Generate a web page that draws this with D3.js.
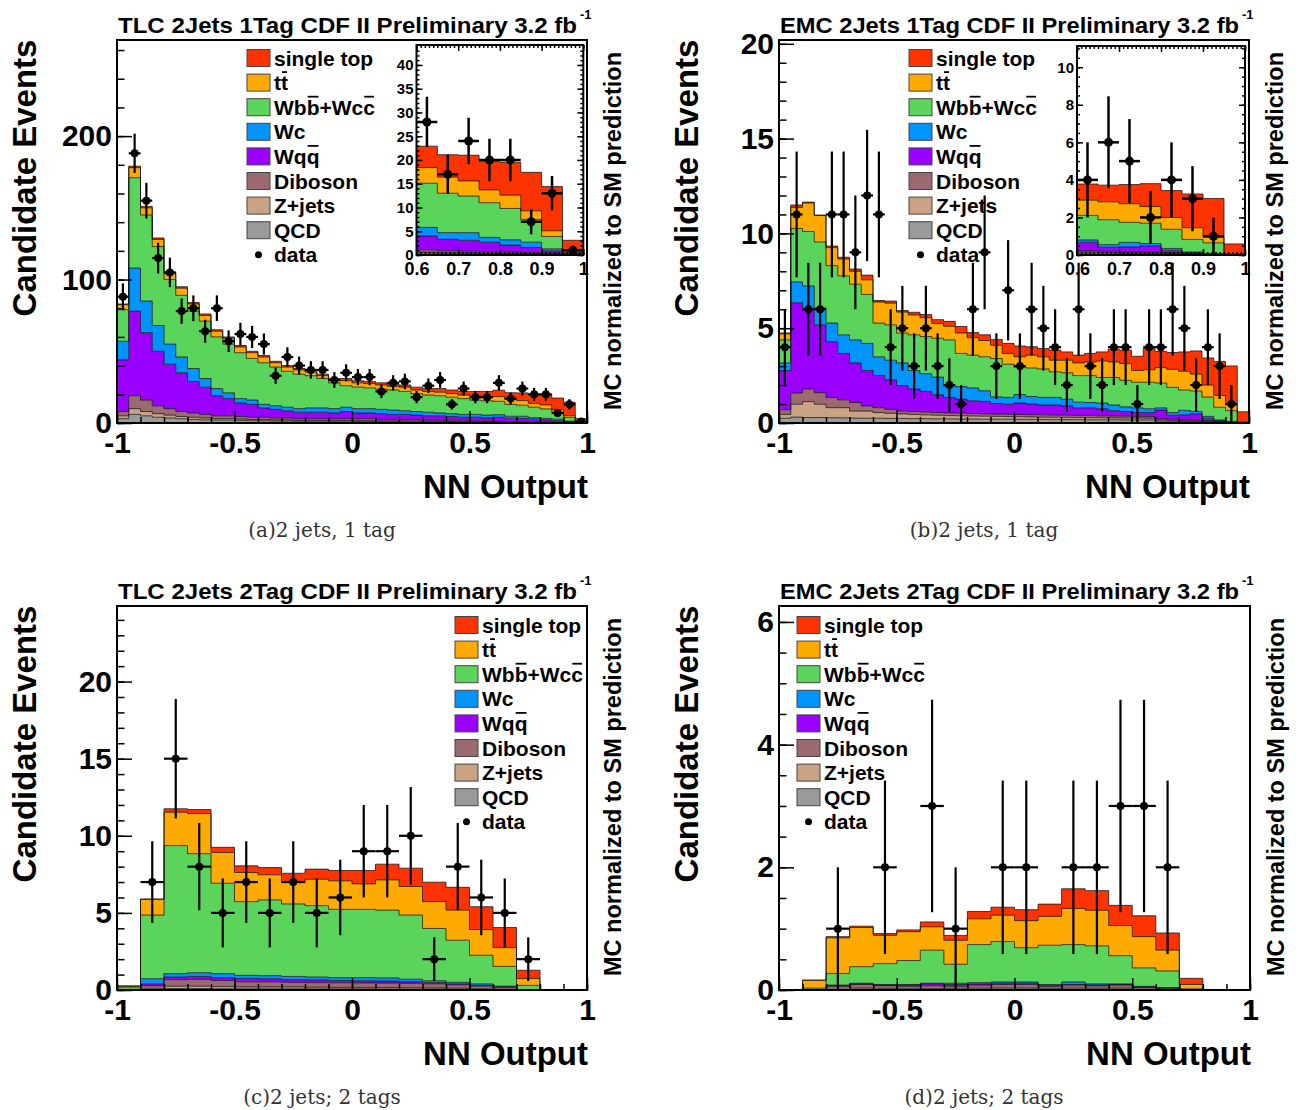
<!DOCTYPE html>
<html>
<head>
<meta charset="utf-8">
<script src="https://cdn.jsdelivr.net/npm/d3@7"></script>
<style>
  body { margin: 0; background: #fff; }
  svg { display: block; }
  text { font-family: "Liberation Sans", Arial, Helvetica, sans-serif; font-weight: bold; }
  text.caption { font-family: "DejaVu Serif", "Liberation Serif", serif; font-weight: normal; }
</style>
</head>
<body>
<svg id="fig" width="1300" height="1110"></svg>
<script>
// Processes in stacking order (bottom to top) and their fill colours
const processNames = ["QCD", "Z+jets", "Diboson", "Wqq", "Wc", "Wbb+Wcc", "tt", "single top"];
const processColors = ["#9a9a9a", "#c9a384", "#9a6a70", "#9900ff", "#0094ff", "#5ad45a", "#ffaa00", "#ff3300"];

// Bin edges of the NN output histograms
const edges40 = d3.range(41).map(i => -1 + i * 0.05);
const edges20 = d3.range(21).map(i => -1 + i * 0.1);

// ---- TLC 2 jets, 1 tag (40 bins) ----
const tlc1_qcd     = [3, 6, 5, 4, 3.5, 3, 2.5, 2.2, 2, 2, 1.8, 1.6, 1.6, 1.4, 1.4, 1.2, 1.2, 1.2, 1.2, 1.2, 1.1, 1.1, 1.0, 1.0, 0.9, 0.9, 0.8, 0.8, 0.7, 0.7, 0.6, 0.6, 0.4, 0.35, 0.3, 0.3, 0.2, 0.2, 0.15, 0.02];
const tlc1_zjets   = [2, 4, 3, 2.5, 2, 1.5, 1.5, 1.3, 1, 1, 0.9, 0.8, 0.8, 0.7, 0.7, 0.6, 0.6, 0.6, 0.6, 0.6, 0.6, 0.6, 0.5, 0.5, 0.5, 0.5, 0.4, 0.4, 0.4, 0.4, 0.3, 0.3, 0.2, 0.2, 0.2, 0.1, 0.1, 0.1, 0.1, 0.01];
const tlc1_diboson = [3, 9, 8, 5.5, 4.5, 3.5, 3, 2.5, 2, 2, 1.8, 1.6, 1.6, 1.4, 1.4, 1.2, 1.2, 1.2, 1.2, 1.2, 1.3, 1.3, 1.0, 1.0, 1.1, 1.1, 0.8, 0.8, 0.9, 0.9, 0.6, 0.6, 0.5, 0.35, 0.3, 0.3, 0.3, 0.2, 0.15, 0.02];
const tlc1_wqq     = [36, 59, 47, 38, 31, 27, 22, 19, 14, 12, 9.5, 9, 6.5, 6, 5, 4.5, 4.5, 4.5, 4, 5, 4, 4, 4, 3.5, 3.5, 3, 3, 3, 2.5, 2, 2.5, 2, 2.9, 2.4, 2.3, 2.0, 1.5, 1.1, 0.5, 0.05];
const tlc1_wc      = [13, 30, 22, 18, 14, 11, 9, 6, 5, 4, 3, 3, 2.5, 2.5, 2.5, 2.5, 3, 3, 3, 3, 3, 3, 3, 3, 2.5, 2.5, 2.5, 2, 2, 2, 2, 2, 1.8, 1.4, 1.6, 1.0, 1.1, 1.1, 0.4, 0.1];
const tlc1_wbb     = [22, 63, 60, 55, 45, 43, 40, 40, 36, 34, 32, 29, 29, 27, 25, 24, 22.5, 20.5, 18, 15, 15, 14.5, 14, 14, 13.5, 12.5, 12, 12, 11.5, 11, 10, 10, 9.3, 8.3, 7.7, 7.3, 6.6, 4.8, 2.6, 0.1];
const tlc1_tt      = [3.5, 7, 5, 5, 4, 5, 5, 4, 4, 4, 4, 4, 4, 3, 3, 3, 2.5, 2, 2, 3.5, 3, 3, 3, 2.5, 3, 2.5, 2.5, 2.5, 2.5, 2.5, 3, 3, 3.3, 3.4, 3.2, 2.7, 2.8, 1.8, 1.2, 0.2];
const tlc1_stop    = [0.5, 1, 1, 1, 1, 1, 1, 1, 1, 1, 1, 1, 1, 1, 1, 1, 1.5, 1, 1, 1.5, 1.5, 1.5, 1.5, 1.5, 1.5, 2, 2, 2.5, 2.5, 2.5, 3, 3.5, 4.5, 4.7, 5.4, 6.0, 6.9, 8.1, 9.3, 2.6];
const tlc1_data    = [88, 188, 155, 115, 105, 78, 80, 64, 80, 57, 62, 60, 55, 33, 46, 40, 37, 37, 30, 35, 32, 32, 22, 28, 29, 18, 26, 30, 13, 24, 18, 18, 28, 17, 24, 20, 20, 7, 13, 1];

// ---- EMC 2 jets, 1 tag (40 bins) ----
const emc1_qcd     = [0.25, 0.31, 0.29, 0.29, 0.28, 0.27, 0.26, 0.25, 0.25, 0.24, 0.24, 0.23, 0.23, 0.22, 0.22, 0.21, 0.21, 0.2, 0.2, 0.2, 0.19, 0.19, 0.19, 0.18, 0.18, 0.18, 0.17, 0.17, 0.17, 0.16, 0.16, 0.16, 0.1, 0.09, 0.08, 0.08, 0.06, 0.04, 0.02, 0];
const emc1_zjets   = [0.2, 0.68, 0.84, 0.7, 0.53, 0.54, 0.37, 0.38, 0.3, 0.27, 0.24, 0.22, 0.2, 0.19, 0.17, 0.17, 0.16, 0.16, 0.15, 0.14, 0.14, 0.13, 0.12, 0.12, 0.12, 0.11, 0.11, 0.11, 0.1, 0.1, 0.1, 0.09, 0.06, 0.05, 0.05, 0.04, 0.03, 0.02, 0.01, 0];
const emc1_diboson = [0.25, 0.59, 0.66, 0.61, 0.53, 0.41, 0.45, 0.27, 0.26, 0.21, 0.15, 0.15, 0.15, 0.14, 0.14, 0.14, 0.13, 0.12, 0.12, 0.12, 0.12, 0.12, 0.12, 0.12, 0.11, 0.11, 0.11, 0.1, 0.1, 0.1, 0.09, 0.09, 0.07, 0.06, 0.05, 0.05, 0.04, 0.02, 0.01, 0];
const emc1_wqq     = [2.07, 4.76, 4.19, 3.58, 2.95, 2.45, 2.09, 1.87, 1.7, 1.56, 1.34, 1.19, 1.09, 0.94, 0.82, 0.74, 0.67, 0.66, 0.56, 0.53, 0.6, 0.56, 0.52, 0.53, 0.49, 0.4, 0.41, 0.37, 0.28, 0.24, 0.2, 0.21, 0.45, 0.21, 0.25, 0.32, 0.12, 0.03, 0.01, 0];
const emc1_wc      = [0.4, 1.1, 1.25, 0.89, 0.98, 0.98, 1.21, 1.43, 0.98, 1.03, 1.2, 0.98, 0.93, 0.93, 0.62, 0.66, 0.68, 0.56, 0.35, 0.36, 0.45, 0.4, 0.4, 0.4, 0.35, 0.3, 0.28, 0.3, 0.3, 0.25, 0.25, 0.2, 0.12, 0.14, 0.24, 0.12, 0.1, 0.05, 0.02, 0];
const emc1_wbb     = [1.21, 2.82, 2.87, 3.48, 3.03, 3.11, 2.94, 2.58, 1.78, 1.87, 1.57, 1.88, 1.96, 2.05, 2.41, 1.75, 1.73, 1.79, 2.02, 1.75, 1.45, 1.5, 1.5, 1.35, 1.4, 1.4, 1.42, 1.35, 1.45, 1.4, 1.35, 1.4, 1.31, 1.33, 1.07, 1.08, 1.02, 0.67, 0.58, 0.02];
const emc1_tt      = [0.32, 1.11, 1.5, 1.39, 0.95, 0.89, 0.68, 0.77, 1.11, 1.14, 1.11, 1.05, 0.99, 0.78, 0.72, 1.08, 0.92, 0.86, 0.7, 0.57, 0.54, 0.68, 0.64, 0.61, 0.66, 0.67, 0.72, 0.87, 0.82, 0.88, 0.62, 0.66, 0.81, 0.95, 0.99, 0.89, 0.63, 0.62, 0.3, 0.03];
const emc1_stop    = [0.05, 0.13, 0.05, 0.03, 0.08, 0.09, 0.12, 0.25, 0.08, 0.11, 0.08, 0.14, 0.17, 0.2, 0.26, 0.34, 0.27, 0.3, 0.31, 0.53, 0.57, 0.44, 0.44, 0.53, 0.44, 0.41, 0.45, 0.48, 0.66, 0.71, 0.75, 1.12, 0.86, 0.89, 1.02, 1.22, 1.43, 1.8, 2.06, 0.54];
const emc1_data    = [4, 11, 6, 6, 11, 11, 9, 12, 11, 4, 5, 3, 5, 3, 2, 1, 6, 9, 3, 7, 3, 6, 5, 4, 2, 6, 3, 2, 4, 4, 1, 4, 4, 6, 5, 2, 4, 3, 1, 0];

// ---- TLC 2 jets, 2 tags (20 bins) ----
const tlc2_qcd     = [0, 0.03, 0.1, 0.1, 0.08, 0.08, 0.08, 0.08, 0.07, 0.07, 0.07, 0.06, 0.06, 0.05, 0.04, 0.03, 0.02, 0, 0, 0];
const tlc2_zjets   = [0, 0.05, 0.15, 0.15, 0.14, 0.12, 0.12, 0.12, 0.11, 0.1, 0.1, 0.1, 0.09, 0.08, 0.07, 0.05, 0.02, 0, 0, 0];
const tlc2_diboson = [0.02, 0.2, 0.42, 0.44, 0.4, 0.33, 0.33, 0.3, 0.3, 0.3, 0.29, 0.29, 0.28, 0.27, 0.23, 0.18, 0.14, 0.01, 0, 0];
const tlc2_wqq     = [0, 0.12, 0.17, 0.19, 0.18, 0.22, 0.2, 0.17, 0.17, 0.15, 0.14, 0.13, 0.11, 0.08, 0.06, 0.04, 0.02, 0, 0, 0];
const tlc2_wc      = [0.02, 0.33, 0.22, 0.24, 0.26, 0.2, 0.2, 0.21, 0.19, 0.18, 0.2, 0.2, 0.16, 0.12, 0.1, 0.1, 0.05, 0.01, 0, 0];
const tlc2_wbb     = [0.15, 4.13, 8.3, 7.72, 5.86, 4.78, 4.91, 4.7, 4.63, 4.43, 4.43, 4.4, 4.16, 3.39, 2.73, 1.85, 1.28, 0.28, 0, 0];
const tlc2_tt      = [0.07, 1.02, 2.17, 2.6, 2.0, 1.89, 1.63, 1.39, 1.71, 1.85, 1.65, 1.96, 1.85, 1.74, 1.95, 1.67, 1.22, 0.44, 0, 0];
const tlc2_stop    = [0, 0.02, 0.22, 0.26, 0.33, 0.43, 0.47, 0.6, 0.66, 0.67, 0.87, 1.02, 1.19, 1.26, 1.48, 1.48, 1.3, 0.54, 0, 0];
const tlc2_data    = [0, 7, 15, 8, 5, 7, 5, 7, 5, 6, 9, 9, 10, 2, 8, 6, 5, 2, 0, 0];

// ---- EMC 2 jets, 2 tags (20 bins) ----
const emc2_qcd     = [0, 0, 0, 0.01, 0.01, 0.01, 0.01, 0.01, 0.01, 0.01, 0.01, 0.01, 0.01, 0.01, 0.01, 0, 0, 0, 0, 0];
const emc2_zjets   = [0, 0, 0.01, 0.02, 0.01, 0.01, 0.01, 0.01, 0.02, 0.02, 0.02, 0.01, 0.02, 0.02, 0.02, 0.01, 0.01, 0, 0, 0];
const emc2_diboson = [0, 0, 0.05, 0.06, 0.05, 0.04, 0.05, 0.04, 0.05, 0.06, 0.06, 0.04, 0.05, 0.04, 0.05, 0.03, 0.02, 0, 0, 0];
const emc2_wqq     = [0, 0, 0.01, 0.01, 0.01, 0.02, 0.03, 0.03, 0.02, 0.02, 0.02, 0.01, 0.01, 0.01, 0.01, 0.01, 0, 0, 0, 0];
const emc2_wc      = [0, 0, 0.01, 0.01, 0.01, 0.01, 0.01, 0.02, 0.02, 0.02, 0.02, 0.02, 0.04, 0.02, 0.01, 0.01, 0.01, 0, 0, 0];
const emc2_wbb     = [0, 0.03, 0.19, 0.27, 0.34, 0.39, 0.54, 0.31, 0.62, 0.66, 0.56, 0.64, 0.61, 0.62, 0.46, 0.3, 0.27, 0.02, 0, 0];
const emc2_tt      = [0, 0.13, 0.58, 0.64, 0.46, 0.47, 0.38, 0.39, 0.42, 0.43, 0.44, 0.47, 0.59, 0.58, 0.49, 0.51, 0.34, 0.07, 0, 0];
const emc2_stop    = [0, 0, 0.02, 0.02, 0.03, 0.03, 0.08, 0.08, 0.12, 0.13, 0.18, 0.2, 0.32, 0.32, 0.33, 0.34, 0.28, 0.1, 0, 0];
const emc2_data    = [0, 0, 1, 0, 2, 0, 3, 1, 0, 2, 2, 0, 2, 2, 3, 3, 2, 0, 0, 0];

// Legend entries, top to bottom; "bars" are character indices carrying an overline
const legendEntries = [
  { label: "single top", proc: 7, bars: [] },
  { label: "tt",         proc: 6, bars: [1] },
  { label: "Wbb+Wcc",    proc: 5, bars: [2, 6] },
  { label: "Wc",         proc: 4, bars: [] },
  { label: "Wqq",        proc: 3, bars: [2] },
  { label: "Diboson",    proc: 2, bars: [] },
  { label: "Z+jets",     proc: 1, bars: [] },
  { label: "QCD",        proc: 0, bars: [] },
  { label: "data",       proc: -1, bars: [] }
];

const svg = d3.select("#fig");
svg.append("rect").attr("width", 1300).attr("height", 1110).attr("fill", "#fff");
let clipCount = 0;

function stepPoints(series, edges) {
  const pts = [];
  series.forEach((d, i) => {
    pts.push({ x: edges[i], lo: d[0], hi: d[1] });
    pts.push({ x: edges[i + 1], lo: d[0], hi: d[1] });
  });
  return pts;
}

// Stacked step histogram plus data points inside a clipped frame
function drawHistogram(g, x, y, edges, comps, counts, frame, mark) {
  const clipId = "clip" + (clipCount++);
  g.append("clipPath").attr("id", clipId).append("rect")
    .attr("x", frame.left).attr("y", frame.top)
    .attr("width", frame.right - frame.left).attr("height", frame.bottom - frame.top);
  const layer = g.append("g").attr("clip-path", `url(#${clipId})`);

  const rows = edges.slice(0, -1).map((_, i) => {
    const r = {};
    processNames.forEach((k, j) => { r[k] = comps[j][i]; });
    return r;
  });
  const stacked = d3.stack().keys(processNames)(rows);
  const area = d3.area().x(d => x(d.x)).y0(d => y(d.lo)).y1(d => y(d.hi));
  const line = d3.line().x(d => x(d.x)).y(d => y(d.hi));

  layer.selectAll("path.fill").data(stacked).join("path")
    .attr("class", "fill")
    .attr("d", s => area(stepPoints(s, edges)))
    .attr("fill", (s, j) => processColors[j]);
  layer.selectAll("path.edge").data(stacked).join("path")
    .attr("class", "edge")
    .attr("d", s => line([{ x: edges[0], hi: 0 }, ...stepPoints(s, edges), { x: edges[edges.length - 1], hi: 0 }]))
    .attr("fill", "none").attr("stroke", "#111").attr("stroke-width", 1).attr("stroke-opacity", 0.75);

  const pts = counts.map((n, i) => ({ n, lo: edges[i], hi: edges[i + 1] })).filter(d => d.n > 0);
  const dg = layer.append("g");
  dg.selectAll("line.v").data(pts).join("line").attr("class", "v")
    .attr("x1", d => x((d.lo + d.hi) / 2)).attr("x2", d => x((d.lo + d.hi) / 2))
    .attr("y1", d => y(Math.max(0, d.n - Math.sqrt(d.n)))).attr("y2", d => y(d.n + Math.sqrt(d.n)))
    .attr("stroke", "#000").attr("stroke-width", mark.w);
  dg.selectAll("line.h").data(pts).join("line").attr("class", "h")
    .attr("x1", d => x(d.lo)).attr("x2", d => x(d.hi))
    .attr("y1", d => y(d.n)).attr("y2", d => y(d.n))
    .attr("stroke", "#000").attr("stroke-width", mark.w);
  dg.selectAll("circle").data(pts).join("circle")
    .attr("cx", d => x((d.lo + d.hi) / 2)).attr("cy", d => y(d.n)).attr("r", mark.r).attr("fill", "#000");
}

function styleAxis(sel, fontSize) {
  sel.select(".domain").remove();
  sel.attr("font-size", fontSize).attr("font-family", null);
  sel.selectAll(".tick line").attr("stroke-width", 1.5);
}

function drawAxes(g, x, y, f, o) {
  g.append("g").attr("transform", `translate(0,${f.bottom})`)
    .call(d3.axisBottom(x).tickValues(o.xMinor).tickSizeInner(-o.xMinLen).tickSizeOuter(0).tickFormat(() => ""))
    .call(s => styleAxis(s, o.xFont));
  g.append("g").attr("transform", `translate(0,${f.bottom})`)
    .call(d3.axisBottom(x).tickValues(o.xMajor).tickSizeInner(-o.xMajLen).tickSizeOuter(0).tickPadding(o.xPad).tickFormat(o.xFmt))
    .call(s => styleAxis(s, o.xFont));
  g.append("g").attr("transform", `translate(${f.left},0)`)
    .call(d3.axisLeft(y).tickValues(o.yMinor).tickSizeInner(-o.yMinLen).tickSizeOuter(0).tickFormat(() => ""))
    .call(s => styleAxis(s, o.yFont));
  g.append("g").attr("transform", `translate(${f.left},0)`)
    .call(d3.axisLeft(y).tickValues(o.yMajor).tickSizeInner(-o.yMajLen).tickSizeOuter(0).tickPadding(o.yPad).tickFormat(d3.format("d")))
    .call(s => styleAxis(s, o.yFont));
  if (o.mirror) {
    g.append("g").attr("transform", `translate(${f.right},0)`)
      .call(d3.axisRight(y).tickValues(o.yMinor).tickSizeInner(-o.yMinLen).tickSizeOuter(0).tickFormat(() => ""))
      .call(s => styleAxis(s, o.yFont));
    g.append("g").attr("transform", `translate(${f.right},0)`)
      .call(d3.axisRight(y).tickValues(o.yMajor).tickSizeInner(-o.yMajLen).tickSizeOuter(0).tickFormat(() => ""))
      .call(s => styleAxis(s, o.yFont));
    g.append("g").attr("transform", `translate(0,${f.top})`)
      .call(d3.axisTop(x).tickValues(o.xMinor).tickSizeInner(-o.xMinLen).tickSizeOuter(0).tickFormat(() => ""))
      .call(s => styleAxis(s, o.xFont));
    g.append("g").attr("transform", `translate(0,${f.top})`)
      .call(d3.axisTop(x).tickValues(o.xMajor).tickSizeInner(-o.xMajLen).tickSizeOuter(0).tickFormat(() => ""))
      .call(s => styleAxis(s, o.xFont));
  }
  g.append("rect").attr("x", f.left).attr("y", f.top)
    .attr("width", f.right - f.left).attr("height", f.bottom - f.top)
    .attr("fill", "none").attr("stroke", "#000").attr("stroke-width", 2);
}

function drawLegend(g, lx, ly0, step) {
  legendEntries.forEach((e, k) => {
    const cy = ly0 + k * step;
    if (e.proc >= 0) {
      g.append("rect").attr("x", lx).attr("y", cy - 8.5).attr("width", 23).attr("height", 17)
        .attr("fill", processColors[e.proc]).attr("stroke", "#444").attr("stroke-width", 1);
    } else {
      g.append("circle").attr("cx", lx + 11.5).attr("cy", cy).attr("r", 3.5).attr("fill", "#000");
    }
    const tx = lx + 27;
    const t = g.append("text").attr("x", tx).attr("y", cy + 7.5).attr("font-size", 21).text(e.label);
    const node = t.node();
    e.bars.forEach(ci => {
      const x0 = tx + (ci > 0 ? node.getSubStringLength(0, ci) : 0);
      const w = node.getSubStringLength(ci, 1);
      g.append("line").attr("x1", x0 + 1).attr("x2", x0 + w - 1)
        .attr("y1", cy - 10.5).attr("y2", cy - 10.5).attr("stroke", "#000").attr("stroke-width", 1.8);
    });
  });
}

const mainFmt = d => (Math.abs(d) < 1e-9 ? "0" : String(+d.toFixed(2)));
const insetFmt = d => (d > 0.999 ? "1" : d.toFixed(1));

const panels = [
  { left: 117, right: 587, top: 40, bottom: 423, ymax: 267, yMajor: [0, 100, 200], yMinor: d3.range(0, 267, 20),
    edges: edges40, comps: [tlc1_qcd, tlc1_zjets, tlc1_diboson, tlc1_wqq, tlc1_wc, tlc1_wbb, tlc1_tt, tlc1_stop], data: tlc1_data,
    title: "TLC 2Jets 1Tag  CDF II Preliminary 3.2 fb", titleEnd: 577, legendX: 247, legendY: 58,
    caption: "(a)2 jets, 1 tag",
    inset: { left: 416.5, right: 583.3, top: 45, bottom: 255, ymax: 44.2, yMajor: d3.range(0, 41, 5), yMinor: d3.range(0, 44, 1) } },
  { left: 779, right: 1249, top: 40, bottom: 423, ymax: 20.2, yMajor: [0, 5, 10, 15, 20], yMinor: d3.range(0, 20.2, 1),
    edges: edges40, comps: [emc1_qcd, emc1_zjets, emc1_diboson, emc1_wqq, emc1_wc, emc1_wbb, emc1_tt, emc1_stop], data: emc1_data,
    title: "EMC 2Jets 1Tag CDF II Preliminary 3.2 fb", titleEnd: 1239, legendX: 909, legendY: 58,
    caption: "(b)2 jets, 1 tag",
    inset: { left: 1077, right: 1245, top: 46, bottom: 255, ymax: 11.13, yMajor: [0, 2, 4, 6, 8, 10], yMinor: d3.range(0, 11.1, 0.5) } },
  { left: 117, right: 587, top: 606, bottom: 990, ymax: 24.9, yMajor: [0, 5, 10, 15, 20], yMinor: d3.range(0, 24.9, 1),
    edges: edges20, comps: [tlc2_qcd, tlc2_zjets, tlc2_diboson, tlc2_wqq, tlc2_wc, tlc2_wbb, tlc2_tt, tlc2_stop], data: tlc2_data,
    title: "TLC 2Jets 2Tag  CDF II Preliminary 3.2 fb", titleEnd: 577, legendX: 455, legendY: 625,
    caption: "(c)2 jets; 2 tags", inset: null },
  { left: 779, right: 1250, top: 606, bottom: 990, ymax: 6.26, yMajor: [0, 2, 4, 6], yMinor: d3.range(0, 6.26, 0.5),
    edges: edges20, comps: [emc2_qcd, emc2_zjets, emc2_diboson, emc2_wqq, emc2_wc, emc2_wbb, emc2_tt, emc2_stop], data: emc2_data,
    title: "EMC 2Jets 2Tag CDF II Preliminary 3.2 fb", titleEnd: 1239, legendX: 797, legendY: 625,
    caption: "(d)2 jets; 2 tags", inset: null }
];

panels.forEach(p => {
  const g = svg.append("g");
  const x = d3.scaleLinear().domain([-1, 1]).range([p.left, p.right]);
  const y = d3.scaleLinear().domain([0, p.ymax]).range([p.bottom, p.top]);

  drawHistogram(g, x, y, p.edges, p.comps, p.data, p, { r: 4, w: 2.2 });
  drawAxes(g, x, y, p, {
    xMajor: [-1, -0.5, 0, 0.5, 1], xMinor: d3.range(-1, 1.0001, 0.1), xMajLen: 12, xMinLen: 6, xPad: 9, xFont: 30, xFmt: mainFmt,
    yMajor: p.yMajor, yMinor: p.yMinor, yMajLen: 15, yMinLen: 7.5, yPad: 5, yFont: 30, mirror: false
  });

  drawLegend(g, p.legendX, p.legendY, 24.6);

  if (p.inset) {
    const q = p.inset;
    g.append("rect").attr("x", q.left).attr("y", q.top).attr("width", q.right - q.left).attr("height", q.bottom - q.top).attr("fill", "#fff");
    const xi = d3.scaleLinear().domain([0.6, 1]).range([q.left, q.right]);
    const yi = d3.scaleLinear().domain([0, q.ymax]).range([q.bottom, q.top]);
    drawHistogram(g, xi, yi, p.edges, p.comps, p.data, q, { r: 4.5, w: 2.5 });
    drawAxes(g, xi, yi, q, {
      xMajor: [0.6, 0.7, 0.8, 0.9, 1.0], xMinor: d3.range(0.6, 1.0001, 0.01), xMajLen: 6, xMinLen: 3, xPad: 7, xFont: 18, xFmt: insetFmt,
      yMajor: q.yMajor, yMinor: q.yMinor, yMajLen: 6, yMinLen: 3, yPad: 3, yFont: 15, mirror: true
    });
  }

  // Titles and axis labels
  const t = g.append("text").attr("x", p.left + 1).attr("y", p.top - 7).attr("font-size", 22).text(p.title);
  t.attr("textLength", p.titleEnd - p.left - 1).attr("lengthAdjust", "spacingAndGlyphs");
  g.append("text").attr("x", p.titleEnd + 3).attr("y", p.top - 21).attr("font-size", 13).text("-1");

  g.append("text").attr("transform", `translate(${p.left - 81},${p.top + 138}) rotate(-90)`)
    .attr("text-anchor", "middle").attr("font-size", 33).text("Candidate Events");
  g.append("text").attr("transform", `translate(${p.right + 34},${p.top + 191}) rotate(-90)`)
    .attr("text-anchor", "middle").attr("font-size", 23)
    .attr("textLength", 358).attr("lengthAdjust", "spacingAndGlyphs")
    .text("MC normalized to SM prediction");
  g.append("text").attr("x", p.right + 1).attr("y", p.bottom + 75).attr("text-anchor", "end")
    .attr("font-size", 33).text("NN Output");
  g.append("text").attr("class", "caption").attr("x", p.left + 205).attr("y", p.bottom + 114)
    .attr("text-anchor", "middle").attr("font-size", 20).attr("fill", "#333").text(p.caption);
});
</script>
</body>
</html>
